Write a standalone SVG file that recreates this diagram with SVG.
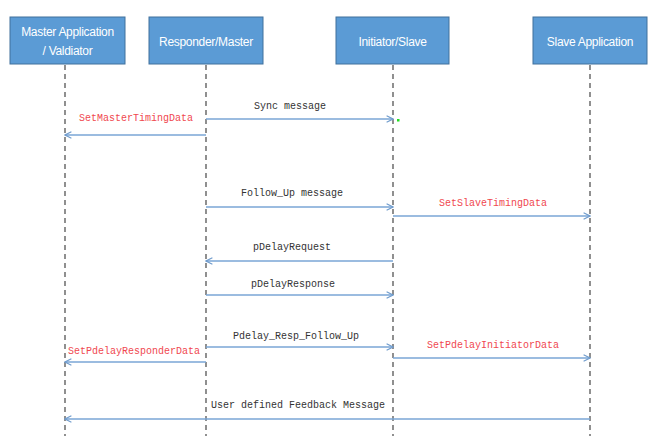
<svg xmlns="http://www.w3.org/2000/svg" width="654" height="441" viewBox="0 0 654 441">
<style>
.box{fill:#5B9BD5;stroke:#41719C;stroke-width:1}
.bt{font-family:"Liberation Sans",Arial,sans-serif;font-size:12px;letter-spacing:-0.3px;fill:#fff;text-anchor:middle}
.life{stroke:#555;stroke-width:1.3;stroke-dasharray:5,4;fill:none}
.msg{stroke:#7AA6D6;stroke-width:1.5;fill:none;marker-end:url(#ah)}
.lb{font-family:"Liberation Mono","Courier New",monospace;font-size:10px;fill:#333;text-anchor:middle}
.rd{fill:#F0484F}
</style>
<defs>
<marker id="ah" viewBox="0 0 10 10" refX="9" refY="5" markerWidth="8" markerHeight="8" markerUnits="userSpaceOnUse" orient="auto">
<path d="M1,1 L9,5 L1,9" fill="none" stroke="#6F9BCC" stroke-width="1.4"/>
</marker>
</defs>
<rect width="654" height="441" fill="#fff"/>
<g id="master-app">
<rect class="box" x="10" y="17" width="115" height="47"/>
<text class="bt" x="67.5" y="36">Master Application</text>
<text class="bt" x="67.5" y="55">/ Valdiator</text>
<line class="life" x1="65" y1="65" x2="65" y2="436"/>
</g>
<g id="responder">
<rect class="box" x="149" y="17" width="114" height="47"/>
<text class="bt" x="206" y="46">Responder/Master</text>
<line class="life" x1="206" y1="65" x2="206" y2="436"/>
</g>
<g id="initiator">
<rect class="box" x="336" y="17" width="113" height="47"/>
<text class="bt" x="392.5" y="46">Initiator/Slave</text>
<line class="life" x1="393" y1="65" x2="393" y2="436"/>
</g>
<g id="slave-app">
<rect class="box" x="533" y="17" width="114" height="47"/>
<text class="bt" x="590" y="46">Slave Application</text>
<line class="life" x1="590" y1="65" x2="590" y2="436"/>
</g>
<g id="connectors">
<line class="msg" x1="206" y1="119" x2="393" y2="119"/>
<text class="lb" x="290" y="109">Sync message</text>
<rect x="397" y="119" width="2.5" height="2.5" fill="#22DD22"/>
<line class="msg" x1="206" y1="135" x2="65" y2="135"/>
<text class="lb rd" x="136" y="121">SetMasterTimingData</text>
<line class="msg" x1="206" y1="207" x2="393" y2="207"/>
<text class="lb" x="292" y="196">Follow_Up message</text>
<line class="msg" x1="393" y1="216" x2="590" y2="216"/>
<text class="lb rd" x="493" y="206">SetSlaveTimingData</text>
<line class="msg" x1="393" y1="261" x2="206" y2="261"/>
<text class="lb" x="292" y="250">pDelayRequest</text>
<line class="msg" x1="206" y1="295" x2="393" y2="295"/>
<text class="lb" x="293" y="287">pDelayResponse</text>
<line class="msg" x1="206" y1="347" x2="393" y2="347"/>
<text class="lb" x="296" y="339">Pdelay_Resp_Follow_Up</text>
<line class="msg" x1="393" y1="358" x2="590" y2="358"/>
<text class="lb rd" x="493" y="348">SetPdelayInitiatorData</text>
<line class="msg" x1="206" y1="362" x2="65" y2="362"/>
<text class="lb rd" x="134" y="354">SetPdelayResponderData</text>
<line class="msg" x1="590" y1="419" x2="65" y2="419"/>
<text class="lb" x="298" y="408">User defined Feedback Message</text>
</g>
</svg>
